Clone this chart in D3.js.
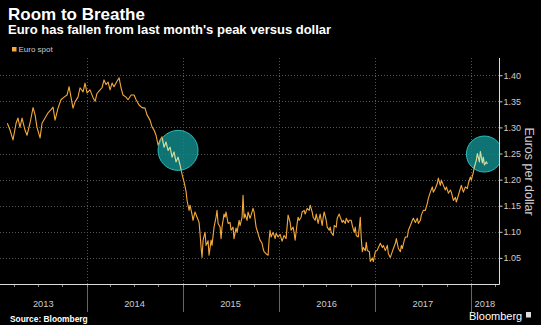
<!DOCTYPE html>
<html>
<head>
<meta charset="utf-8">
<script src="https://cdn.jsdelivr.net/npm/d3@7"></script>
<style>
    body { margin: 0; background: #000; }
    svg { display: block; font-family: "Liberation Sans", Arial, sans-serif; }
</style>
</head>
<body>
<script>
// euro spot (dates as decimal years)
var spotDates = [
    2013.175, 2013.203, 2013.234, 2013.266, 2013.286, 2013.307, 2013.328, 2013.359, 2013.380, 2013.411,
    2013.443, 2013.464, 2013.484, 2013.516, 2013.536, 2013.568, 2013.599, 2013.630, 2013.651, 2013.672,
    2013.703, 2013.734, 2013.766, 2013.797, 2013.818, 2013.839, 2013.859, 2013.880, 2013.911, 2013.932,
    2013.964, 2013.984, 2014.005, 2014.036, 2014.068, 2014.089, 2014.109, 2014.141, 2014.161, 2014.182,
    2014.203, 2014.224, 2014.245, 2014.266, 2014.286, 2014.307, 2014.339, 2014.359, 2014.380, 2014.411,
    2014.432, 2014.464, 2014.495, 2014.516, 2014.547, 2014.578, 2014.609, 2014.630, 2014.661, 2014.682,
    2014.703, 2014.724, 2014.745, 2014.766, 2014.786, 2014.807, 2014.828, 2014.849, 2014.870, 2014.891,
    2014.911, 2014.932, 2014.953, 2014.974, 2014.995, 2015.016, 2015.036, 2015.047, 2015.068, 2015.078,
    2015.099, 2015.109, 2015.130, 2015.151, 2015.172, 2015.182, 2015.193, 2015.203, 2015.214, 2015.234,
    2015.245, 2015.266, 2015.276, 2015.297, 2015.307, 2015.328, 2015.349, 2015.359, 2015.370, 2015.391,
    2015.401, 2015.411, 2015.432, 2015.443, 2015.453, 2015.474, 2015.495, 2015.505, 2015.526, 2015.536,
    2015.557, 2015.568, 2015.589, 2015.599, 2015.620, 2015.630, 2015.641, 2015.651, 2015.672, 2015.682,
    2015.703, 2015.714, 2015.734, 2015.745, 2015.766, 2015.776, 2015.797, 2015.807, 2015.828, 2015.839,
    2015.849, 2015.870, 2015.891, 2015.901, 2015.911, 2015.922, 2015.943, 2015.964, 2015.974, 2015.995,
    2016.016, 2016.036, 2016.057, 2016.078, 2016.099, 2016.120, 2016.130, 2016.151, 2016.161, 2016.172,
    2016.193, 2016.203, 2016.214, 2016.234, 2016.245, 2016.266, 2016.276, 2016.297, 2016.318, 2016.328,
    2016.349, 2016.359, 2016.380, 2016.391, 2016.411, 2016.422, 2016.432, 2016.453, 2016.464, 2016.474,
    2016.495, 2016.505, 2016.526, 2016.536, 2016.547, 2016.568, 2016.578, 2016.599, 2016.609, 2016.630,
    2016.641, 2016.661, 2016.672, 2016.693, 2016.703, 2016.724, 2016.734, 2016.755, 2016.766, 2016.786,
    2016.797, 2016.807, 2016.828, 2016.839, 2016.849, 2016.859, 2016.870, 2016.880, 2016.901, 2016.911,
    2016.922, 2016.943, 2016.953, 2016.974, 2016.984, 2017.005, 2017.026, 2017.057, 2017.078, 2017.089,
    2017.109, 2017.130, 2017.141, 2017.161, 2017.182, 2017.193, 2017.214, 2017.224, 2017.245, 2017.266,
    2017.276, 2017.286, 2017.307, 2017.318, 2017.339, 2017.349, 2017.370, 2017.391, 2017.401, 2017.422,
    2017.443, 2017.453, 2017.474, 2017.484, 2017.505, 2017.526, 2017.547, 2017.557, 2017.578, 2017.599,
    2017.609, 2017.630, 2017.651, 2017.661, 2017.682, 2017.693, 2017.714, 2017.734, 2017.745, 2017.766,
    2017.786, 2017.797, 2017.818, 2017.839, 2017.849, 2017.870, 2017.891, 2017.901, 2017.922, 2017.943,
    2017.964, 2017.974, 2017.995, 2018.005, 2018.026, 2018.036, 2018.057, 2018.068, 2018.089, 2018.099,
    2018.120, 2018.130, 2018.141, 2018.161, 2018.172
];

var spotRates = [
    1.308, 1.295, 1.276, 1.308, 1.318, 1.300, 1.318, 1.295, 1.285, 1.308,
    1.338, 1.324, 1.300, 1.280, 1.308, 1.318, 1.328, 1.334, 1.339, 1.314,
    1.337, 1.353, 1.358, 1.362, 1.378, 1.357, 1.337, 1.349, 1.358, 1.376,
    1.368, 1.385, 1.366, 1.372, 1.357, 1.350, 1.365, 1.372, 1.376, 1.391,
    1.382, 1.387, 1.372, 1.385, 1.378, 1.385, 1.395, 1.376, 1.362, 1.358,
    1.353, 1.362, 1.362, 1.353, 1.343, 1.338, 1.337, 1.324, 1.314, 1.301,
    1.295, 1.285, 1.266, 1.276, 1.282, 1.262, 1.272, 1.256, 1.262, 1.243,
    1.253, 1.234, 1.243, 1.228, 1.210, 1.195, 1.178, 1.160, 1.141, 1.151,
    1.133, 1.122, 1.138, 1.128, 1.118, 1.097, 1.070, 1.051, 1.084, 1.099,
    1.074, 1.083, 1.055, 1.084, 1.074, 1.109, 1.128, 1.141, 1.116, 1.109,
    1.087, 1.109, 1.134, 1.128, 1.138, 1.116, 1.118, 1.103, 1.109, 1.087,
    1.107, 1.099, 1.122, 1.112, 1.128, 1.170, 1.126, 1.134, 1.122, 1.138,
    1.126, 1.132, 1.145, 1.138, 1.109, 1.103, 1.090, 1.084, 1.078, 1.068,
    1.062, 1.058, 1.055, 1.084, 1.103, 1.090, 1.099, 1.087, 1.097, 1.090,
    1.095, 1.082, 1.093, 1.087, 1.132, 1.118, 1.103, 1.109, 1.099, 1.084,
    1.116, 1.128, 1.122, 1.128, 1.138, 1.141, 1.134, 1.145, 1.141, 1.151,
    1.138, 1.128, 1.122, 1.134, 1.116, 1.126, 1.134, 1.112, 1.128, 1.138,
    1.122, 1.109, 1.103, 1.109, 1.099, 1.093, 1.112, 1.109, 1.126, 1.134,
    1.128, 1.118, 1.122, 1.116, 1.126, 1.118, 1.122, 1.122, 1.112, 1.099,
    1.109, 1.093, 1.090, 1.109, 1.128, 1.087, 1.062, 1.070, 1.064, 1.080,
    1.064, 1.062, 1.043, 1.050, 1.043, 1.062, 1.065, 1.078, 1.070, 1.074,
    1.064, 1.074, 1.058, 1.051, 1.062, 1.068, 1.078, 1.087, 1.068, 1.062,
    1.074, 1.068, 1.084, 1.090, 1.090, 1.103, 1.112, 1.122, 1.126, 1.118,
    1.126, 1.116, 1.122, 1.132, 1.141, 1.141, 1.155, 1.164, 1.176, 1.186,
    1.176, 1.183, 1.193, 1.203, 1.189, 1.199, 1.189, 1.180, 1.186, 1.174,
    1.180, 1.176, 1.160, 1.166, 1.157, 1.170, 1.183, 1.189, 1.176, 1.186,
    1.183, 1.193, 1.205, 1.199, 1.214, 1.224, 1.237, 1.250, 1.234, 1.254,
    1.232, 1.243, 1.228, 1.234, 1.230
];

var yTicks = [1.05, 1.10, 1.15, 1.20, 1.25, 1.30, 1.35, 1.40];
var yearLabels = [2013, 2014, 2015, 2016, 2017, 2018];

// highlighted spots: centre date, rate
var highlightDates = [2014.953, 2018.141];
var highlightRates = [1.256, 1.249];


function yearToDate(y) {
    var yr = Math.floor(y);
    var start = new Date(yr, 0, 1), end = new Date(yr + 1, 0, 1);
    return new Date(+start + (y - yr) * (end - start));
}


function euroChart() {

    this.init = function () {
        var width = 541, height = 325;

        this.plot = { left: 0, right: 499, top: 58, bottom: 284 };

        this.x = d3.scaleTime()
            .domain([new Date(2013, 1, 6), new Date(2018, 3, 18)])
            .range([this.plot.left, this.plot.right]);

        this.y = d3.scaleLinear()
            .domain([1.0, 1.433])
            .range([this.plot.bottom, this.plot.top]);

        var svg = d3.select("body")
            .append("svg")
            .attr("width", width)
            .attr("height", height);

        svg.append("rect")
            .attr("width", width)
            .attr("height", height)
            .attr("fill", "#000");

        this.drawHeader(svg);
        this.drawGrid(svg);
        this.drawAxes(svg);
        this.drawSeries(svg);
        this.drawFooter(svg);
    };


    this.drawHeader = function (svg) {
        svg.append("text")
            .attr("x", 8).attr("y", 19.5)
            .attr("fill", "#fff")
            .attr("font-size", 17).attr("font-weight", "bold")
            .text("Room to Breathe");

        svg.append("text")
            .attr("x", 8).attr("y", 34)
            .attr("fill", "#fff")
            .attr("font-size", 13).attr("font-weight", "bold")
            .text("Euro has fallen from last month's peak versus dollar");

        svg.append("rect")
            .attr("x", 12).attr("y", 47)
            .attr("width", 4.5).attr("height", 4.5)
            .attr("fill", "#f5a93a");

        svg.append("text")
            .attr("x", 18.5).attr("y", 52)
            .attr("fill", "#ccc")
            .attr("font-size", 8)
            .text("Euro spot");
    };


    this.drawGrid = function (svg) {
        var x = this.x, y = this.y, p = this.plot;

        svg.append("g").selectAll("line")
            .data(yTicks)
            .enter().append("line")
            .attr("x1", p.left).attr("x2", p.right)
            .attr("y1", function (d) { return Math.round(y(d)) + 0.5; })
            .attr("y2", function (d) { return Math.round(y(d)) + 0.5; })
            .attr("stroke", "#555")
            .attr("stroke-dasharray", "1,2");

        var yearStarts = yearLabels.slice(1).map(function (yr) { return new Date(yr, 0, 1); });

        svg.append("g").selectAll("line")
            .data(yearStarts)
            .enter().append("line")
            .attr("x1", function (d) { return Math.round(x(d)) + 0.5; })
            .attr("x2", function (d) { return Math.round(x(d)) + 0.5; })
            .attr("y1", p.top).attr("y2", p.bottom)
            .attr("stroke", "#555")
            .attr("stroke-dasharray", "1,2");

        // year separators below the axis
        svg.append("g").selectAll("line")
            .data(yearStarts)
            .enter().append("line")
            .attr("x1", function (d) { return Math.round(x(d)) + 0.5; })
            .attr("x2", function (d) { return Math.round(x(d)) + 0.5; })
            .attr("y1", p.bottom).attr("y2", p.bottom + 28)
            .attr("stroke", "#666");
    };


    this.drawAxes = function (svg) {
        var x = this.x, y = this.y, p = this.plot;

        // bottom axis with quarterly ticks
        var quarters = d3.timeMonth.every(3).range(x.domain()[0], x.domain()[1]);
        svg.append("g").selectAll("line")
            .data(quarters)
            .enter().append("line")
            .attr("x1", function (d) { return Math.round(x(d)) + 0.5; })
            .attr("x2", function (d) { return Math.round(x(d)) + 0.5; })
            .attr("y1", p.bottom).attr("y2", p.bottom + 3)
            .attr("stroke", "#888");

        svg.append("line")
            .attr("x1", p.left).attr("x2", p.right + 0.5)
            .attr("y1", p.bottom + 0.5).attr("y2", p.bottom + 0.5)
            .attr("stroke", "#ddd");

        var d0 = x.domain()[0], d1 = x.domain()[1];
        svg.append("g").selectAll("text")
            .data(yearLabels)
            .enter().append("text")
            .attr("x", function (yr) {
                var a = new Date(Math.max(+d0, +new Date(yr, 0, 1)));
                var b = new Date(Math.min(+d1, +new Date(yr + 1, 0, 1)));
                return (x(a) + x(b)) / 2;
            })
            .attr("y", 307)
            .attr("text-anchor", "middle")
            .attr("fill", "#ccc")
            .attr("font-size", 9.3)
            .text(function (yr) { return yr; });

        // right axis
        var axis = svg.append("g")
            .attr("transform", "translate(" + (p.right + 0.5) + ",0)")
            .call(d3.axisRight(y)
                .tickValues(yTicks)
                .tickSize(3)
                .tickPadding(1)
                .tickFormat(d3.format(".2f")));

        axis.select(".domain")
            .attr("d", "M0," + p.top + "V" + (p.bottom + 0.5))
            .attr("stroke", "#ddd");
        axis.selectAll(".tick line").attr("stroke", "#ccc");
        axis.selectAll(".tick text")
            .attr("fill", "#ccc")
            .attr("font-size", 9)
            .attr("font-family", "Liberation Sans, Arial, sans-serif");

        svg.append("text")
            .attr("transform", "translate(525," + ((p.top + p.bottom) / 2 + 0.5) + ") rotate(90)")
            .attr("text-anchor", "middle")
            .attr("fill", "#ccc")
            .attr("font-size", 12.5)
            .text("Euros per dollar");
    };


    this.drawSeries = function (svg) {
        var x = this.x, y = this.y, p = this.plot;

        var data = spotDates.map(function (d, i) {
            return { date: yearToDate(d), rate: spotRates[i] };
        });

        var line = d3.line()
            .x(function (d) { return x(d.date); })
            .y(function (d) { return y(d.rate); });

        var spots = highlightDates.map(function (d, i) {
            return { date: yearToDate(d), rate: highlightRates[i], r: i === 0 ? 20 : 18 };
        });

        var defs = svg.append("defs");
        defs.append("clipPath").attr("id", "plot-clip")
            .append("rect")
            .attr("x", p.left).attr("y", p.top - 10)
            .attr("width", p.right - p.left).attr("height", p.bottom - p.top + 10);

        var spotClip = defs.append("clipPath").attr("id", "spot-clip");
        spots.forEach(function (s) {
            spotClip.append("circle")
                .attr("cx", x(s.date)).attr("cy", y(s.rate)).attr("r", s.r);
        });

        svg.append("path")
            .datum(data)
            .attr("d", line)
            .attr("fill", "none")
            .attr("stroke", "#f5a93a")
            .attr("stroke-width", 1.1)
            .attr("stroke-linejoin", "round");

        var marks = svg.append("g").attr("clip-path", "url(#plot-clip)");

        spots.forEach(function (s) {
            marks.append("circle")
                .attr("cx", x(s.date)).attr("cy", y(s.rate)).attr("r", s.r)
                .attr("fill", "#128c8c")
                .attr("fill-opacity", 0.82)
                .attr("stroke", "#2cbaba")
                .attr("stroke-width", 1);
        });

        marks.append("path")
            .datum(data)
            .attr("clip-path", "url(#spot-clip)")
            .attr("d", line)
            .attr("fill", "none")
            .attr("stroke", "#d2dc9c")
            .attr("stroke-width", 1.1)
            .attr("stroke-linejoin", "round");
    };


    this.drawFooter = function (svg) {
        svg.append("text")
            .attr("x", 10).attr("y", 322)
            .attr("fill", "#fff")
            .attr("font-size", 8.4).attr("font-weight", "bold")
            .text("Source: Bloomberg");

        svg.append("text")
            .attr("x", 469).attr("y", 320)
            .attr("fill", "#fff")
            .attr("font-size", 11)
            .text("Bloomberg");

        svg.append("rect")
            .attr("x", 526).attr("y", 312)
            .attr("width", 5).attr("height", 5.5)
            .attr("fill", "#ddd");
    };

}


window.onload = function () {
    new euroChart().init();
};
</script>
</body>
</html>
